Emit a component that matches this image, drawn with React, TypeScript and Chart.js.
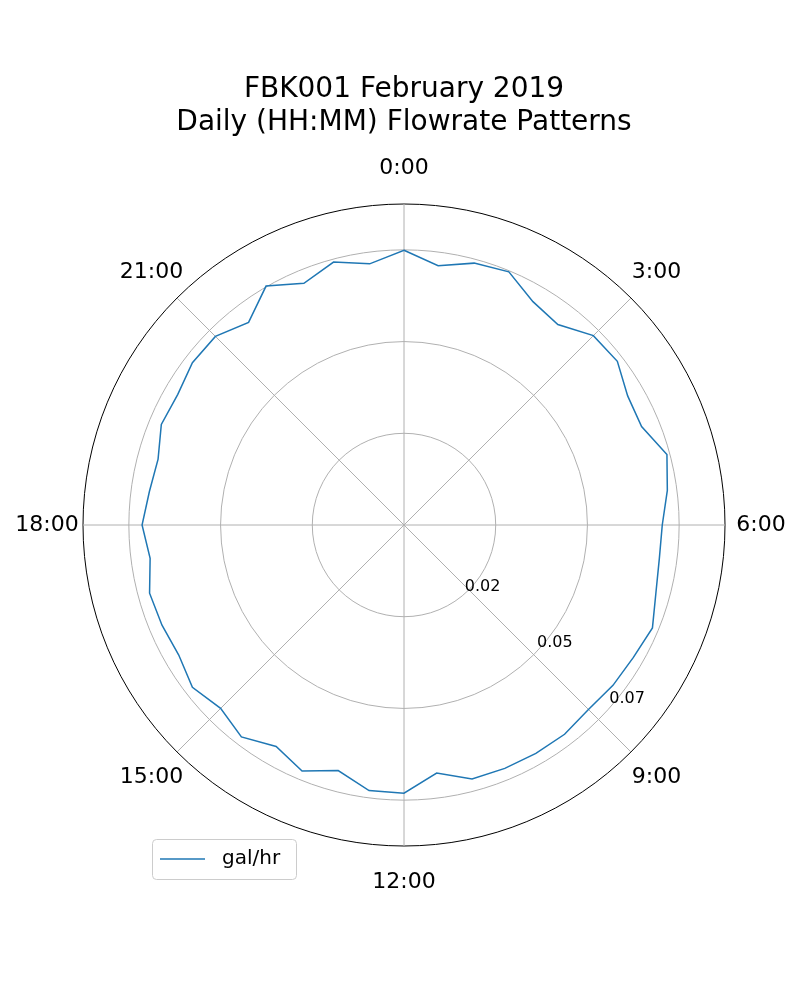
import { useEffect, useRef } from "react"
import Chart from "chart.js/auto"

// 48 half-hour samples, clockwise from 0:00
const flow: number[] = [
  0.0749, 0.0713, 0.0739, 0.0747, 0.0703, 0.0689, 0.073, 0.0733, 0.0704, 0.0701, 0.0742, 0.0724,
  0.0704, 0.0702, 0.0711, 0.0733, 0.0722, 0.0718, 0.0711, 0.0719, 0.0719, 0.0718, 0.0717, 0.0682,
  0.0731, 0.073, 0.0693, 0.0726, 0.0697, 0.0728, 0.0707, 0.0727, 0.0709, 0.0714, 0.0718, 0.0698,
  0.0714, 0.07, 0.0694, 0.0716, 0.0712, 0.0727, 0.0727, 0.0696, 0.0752, 0.0713, 0.0742, 0.0718,
]
const slots: string[] = flow.map((_, i) => `${Math.floor(i / 2)}:${i % 2 ? "30" : "00"}`)
const hourLabels = ["0:00", "3:00", "6:00", "9:00", "12:00", "15:00", "18:00", "21:00"]
const ringValues = [0, 0.025, 0.05, 0.075, 0.0875]
const ringLabels = ["0.02", "0.05", "0.07"]
const titleLines = ["FBK001 February 2019", "Daily (HH:MM) Flowrate Patterns"]
const seriesName = "gal/hr"

const FONT = "'DejaVu Sans', sans-serif"

export default function App() {
  const canvasRef = useRef<HTMLCanvasElement | null>(null)
  const chartRef = useRef<Chart | null>(null)

  useEffect(() => {
    document.body.style.margin = "0"
    if (!canvasRef.current) return
    if (chartRef.current) chartRef.current.destroy()

    const overlay = {
      id: "overlay",
      afterDraw(chart: any) {
        const ctx = chart.ctx
        const s = chart.scales.r
        const cx = s.xCenter
        const cy = s.yCenter
        const R = s.getDistanceFromCenterForValue(ringValues[ringValues.length - 1])
        ctx.save()
        ctx.fillStyle = "#000"
        ctx.textAlign = "center"
        ctx.textBaseline = "middle"
        ctx.font = `28px ${FONT}`
        titleLines.forEach((t, i) => ctx.fillText(t, 404, 90 + i * 33))
        ctx.font = `22px ${FONT}`
        hourLabels.forEach((t, k) => {
          const a = (-90 + k * 45) * Math.PI / 180
          ctx.fillText(t, cx + Math.cos(a) * (R + 36), cy + Math.sin(a) * (R + 36))
        })
        ctx.font = `16px ${FONT}`
        ringLabels.forEach((t, i) => {
          const d = s.getDistanceFromCenterForValue(ringValues[i + 1]) + 8
          const a = 38 * Math.PI / 180
          ctx.fillText(t, cx + Math.cos(a) * d, cy + Math.sin(a) * d)
        })
        // legend
        ctx.strokeStyle = "#cccccc"
        ctx.lineWidth = 1
        ctx.fillStyle = "rgba(255,255,255,0.8)"
        ctx.beginPath()
        ctx.roundRect(152.5, 839.5, 144, 40, 4)
        ctx.fill()
        ctx.stroke()
        ctx.strokeStyle = "#1f77b4"
        ctx.lineWidth = 1.5
        ctx.beginPath()
        ctx.moveTo(160, 859)
        ctx.lineTo(205, 859)
        ctx.stroke()
        ctx.fillStyle = "#000"
        ctx.textAlign = "left"
        ctx.font = `20px ${FONT}`
        ctx.fillText(seriesName, 222, 859)
        ctx.restore()
      },
    }

    chartRef.current = new Chart(canvasRef.current, {
      type: "radar",
      data: {
        labels: slots,
        datasets: [
          {
            label: seriesName,
            data: flow,
            borderColor: "#1f77b4",
            borderWidth: 1.5,
            pointRadius: 0,
            fill: false,
            tension: 0,
          },
        ],
      },
      options: {
        animation: false,
        responsive: false,
        layout: { padding: { left: 83, right: 75, top: 204, bottom: 154 } },
        plugins: { legend: { display: false }, title: { display: false }, tooltip: { enabled: false } },
        scales: {
          r: {
            min: 0,
            max: 0.0875,
            afterBuildTicks: (sc: any) => {
              sc.ticks = ringValues.map((v) => ({ value: v }))
            },
            ticks: { display: false },
            pointLabels: { display: false },
            grid: {
              circular: true,
              color: (c: any) => (c.index === ringValues.length - 1 ? "#000000" : "#b0b0b0"),
              lineWidth: 1,
            },
            angleLines: {
              color: (c: any) => (c.index % 6 === 0 ? "#b0b0b0" : "rgba(0,0,0,0)"),
              lineWidth: 1,
            },
          },
        },
      },
      plugins: [overlay],
    })

    return () => {
      if (chartRef.current) chartRef.current.destroy()
      chartRef.current = null
    }
  }, [])

  return (
    <div style={{ width: 800, height: 1000, background: "#fff" }}>
      <canvas ref={canvasRef} width={800} height={1000}></canvas>
    </div>
  )
}
